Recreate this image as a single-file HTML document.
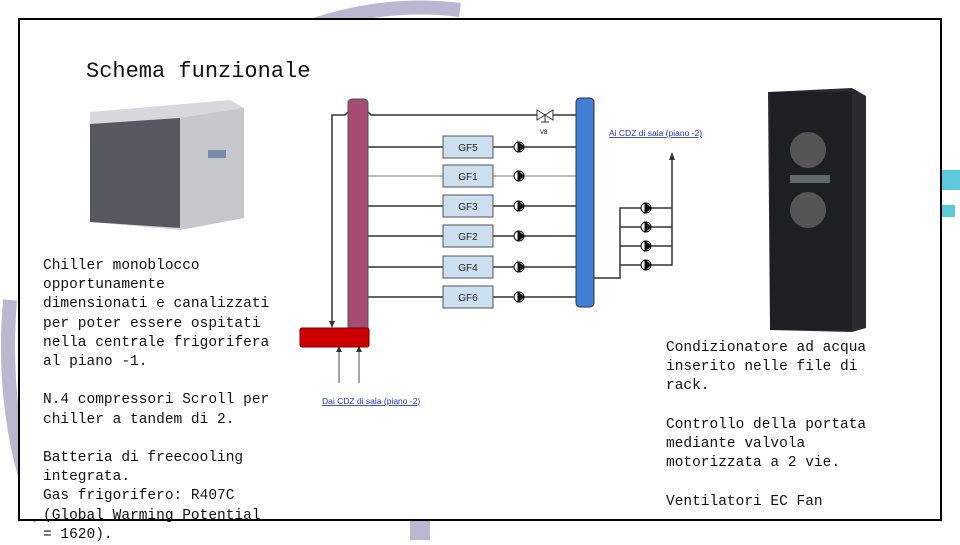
<!DOCTYPE html>
<html><head><meta charset="utf-8"><style>
body{margin:0;width:960px;height:540px;overflow:hidden;background:#fff;position:relative;font-family:"Liberation Mono",monospace}
.t{position:absolute;font-size:14.5px;line-height:19.2px;color:#111;white-space:pre}
</style></head><body>
<svg width="960" height="540" style="position:absolute;left:0;top:0">
 <path d="M300 30 Q380 0 460 10" stroke="#b8b8d0" stroke-width="14" fill="none"/>
 <path d="M10 300 Q0 420 40 520" stroke="#b8b8d0" stroke-width="14" fill="none"/>
 <rect x="410" y="520" width="20" height="20" fill="#b8b8d0"/>
 <rect x="940" y="170" width="20" height="20" fill="#5bc8dc"/>
 <rect x="940" y="205" width="15" height="12" fill="#5bc8dc"/>
 <rect x="19" y="19" width="922" height="501" fill="#fff" stroke="#000" stroke-width="2"/>
 <!-- chiller -->
 <polygon points="90,112 230,100 244,108 244,218 180,230 90,222" fill="#d8d8dc"/>
 <polygon points="90,124 180,118 180,228 90,222" fill="#55585e"/>
 <polygon points="180,118 244,108 244,218 180,230" fill="#c6c8cc"/>
 <rect x="208" y="150" width="18" height="8" fill="#7a8ba8"/>
 <!-- rack -->
 <polygon points="768,92 852,88 866,96 866,328 852,332 770,330" fill="#2a2b2e"/>
 <rect x="770" y="92" width="82" height="238" fill="#1e1f22"/>
 <circle cx="808" cy="150" r="18" fill="#555"/><circle cx="808" cy="210" r="18" fill="#555"/>
 <rect x="790" y="175" width="40" height="8" fill="#606a66"/>
 <g stroke="#333" stroke-width="1.5" fill="none">
  <path d="M332 323 V115 H345 Q358 100 371 115 H585"/>
  <line x1="368" y1="147" x2="576" y2="147"/><line x1="368" y1="176" x2="576" y2="176" stroke="#aaa"/>
  <line x1="368" y1="206" x2="576" y2="206"/><line x1="368" y1="236" x2="576" y2="236"/>
  <line x1="368" y1="267" x2="576" y2="267"/><line x1="368" y1="297" x2="576" y2="297"/>
  <line x1="339" y1="383" x2="339" y2="352" stroke="#888"/><line x1="359" y1="383" x2="359" y2="352" stroke="#888"/>
  <line x1="359" y1="328" x2="359" y2="312"/>
  <path d="M594 278 H620 V208 H672 M620 227 H672 M620 246 H672 M620 265 H672 V158"/>
 </g>
 <g fill="#333">
  <polygon points="329,321 335,321 332,328"/><polygon points="356,312 362,312 359,306"/>
  <polygon points="336,352 342,352 339,346"/><polygon points="356,352 362,352 359,346"/>
  <polygon points="669,160 675,160 672,152"/>
 </g>
 <rect x="348" y="99" width="20" height="235" rx="4" fill="#a44c74" stroke="#555"/>
 <rect x="576" y="98" width="18" height="209" rx="4" fill="#3f7fd8" stroke="#333"/>
 <rect x="300" y="328" width="69" height="19" rx="2" fill="#cc0000" stroke="#700"/>
 <path d="M537 110 L553 120 L553 110 L537 120 Z M545 115 V122 M541 122 H549" stroke="#333" fill="#fff"/>
 <text x="540" y="134" font-size="6" font-family="Liberation Sans">V8</text>
 <g font-family="Liberation Sans" font-size="10" fill="#222" text-anchor="middle">
  <rect x="443" y="136" width="50" height="22" fill="#cde0f0" stroke="#555"/><text x="468" y="151">GF5</text>
  <rect x="443" y="165" width="50" height="22" fill="#cde0f0" stroke="#555"/><text x="468" y="180">GF1</text>
  <rect x="443" y="195" width="50" height="22" fill="#cde0f0" stroke="#555"/><text x="468" y="210">GF3</text>
  <rect x="443" y="225" width="50" height="22" fill="#cde0f0" stroke="#555"/><text x="468" y="240">GF2</text>
  <rect x="443" y="256" width="50" height="22" fill="#cde0f0" stroke="#555"/><text x="468" y="271">GF4</text>
  <rect x="443" y="286" width="50" height="22" fill="#cde0f0" stroke="#555"/><text x="468" y="301">GF6</text>
 </g>
 <g fill="#111" stroke="#111">
  <circle cx="519" cy="147" r="5" fill="#fff"/><circle cx="519" cy="176" r="5" fill="#fff"/><circle cx="519" cy="206" r="5" fill="#fff"/>
  <circle cx="519" cy="236" r="5" fill="#fff"/><circle cx="519" cy="267" r="5" fill="#fff"/><circle cx="519" cy="297" r="5" fill="#fff"/>
  <circle cx="646" cy="208" r="5" fill="#fff"/><circle cx="646" cy="227" r="5" fill="#fff"/><circle cx="646" cy="246" r="5" fill="#fff"/><circle cx="646" cy="265" r="5" fill="#fff"/>
  <polygon points="518,142 524,147 518,152"/><polygon points="518,171 524,176 518,181"/><polygon points="518,201 524,206 518,211"/>
  <polygon points="518,231 524,236 518,241"/><polygon points="518,262 524,267 518,272"/><polygon points="518,292 524,297 518,302"/>
  <polygon points="645,203 651,208 645,213"/><polygon points="645,222 651,227 645,232"/><polygon points="645,241 651,246 645,251"/><polygon points="645,260 651,265 645,270"/>
 </g>
 <g font-family="Liberation Sans" font-size="8.5" fill="#2233bb" text-decoration="underline">
  <text x="609" y="136">Ai CDZ di sala (piano -2)</text>
  <text x="322" y="404">Dai CDZ di sala (piano -2)</text>
 </g>
</svg>
<div class="t" style="left:86px;top:58px;font-size:22px;line-height:28px">Schema funzionale</div>
<div class="t" style="left:43px;top:257px">Chiller monoblocco
opportunamente
dimensionati e canalizzati
per poter essere ospitati
nella centrale frigorifera
al piano -1.

N.4 compressori Scroll per
chiller a tandem di 2.

Batteria di freecooling
integrata.
Gas frigorifero: R407C
(Global Warming Potential
= 1620).</div>
<div class="t" style="left:666px;top:339px">Condizionatore ad acqua
inserito nelle file di
rack.

Controllo della portata
mediante valvola
motorizzata a 2 vie.

Ventilatori EC Fan</div>
</body></html>
